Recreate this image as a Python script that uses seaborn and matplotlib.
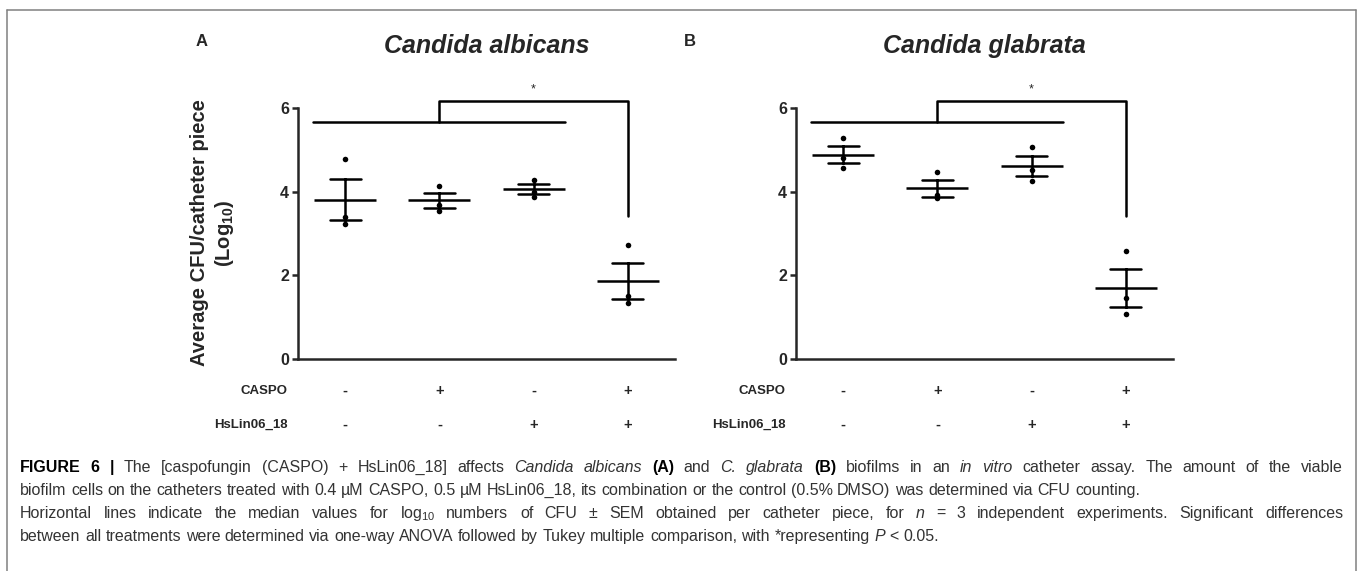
import numpy as np
import pandas as pd
import matplotlib.pyplot as plt
import seaborn as sns
from matplotlib.lines import Line2D

# treatment groups (x positions are categories 0..3)
groups = [0, 1, 2, 3]
caspo = ['-', '+', '-', '+']
hslin = ['-', '-', '+', '+']

# log10 CFU per catheter piece, three experiments per group
albicans_g1 = [4.78, 3.40, 3.23]
albicans_g2 = [4.14, 3.69, 3.54]
albicans_g3 = [4.28, 4.00, 3.88]
albicans_g4 = [2.73, 1.51, 1.35]

glabrata_g1 = [5.28, 4.81, 4.57]
glabrata_g2 = [4.46, 3.92, 3.85]
glabrata_g3 = [5.07, 4.51, 4.26]
glabrata_g4 = [2.58, 1.45, 1.08]

yticks = [0, 2, 4, 6]

# significance bracket levels (data units)
bar_low = 5.67
bar_high = 6.16
bar_drop = 3.42


def make_df(vals):
    rows = []
    for g, v in zip(groups, vals):
        for x in v:
            rows.append({'group': g, 'value': x})
    return pd.DataFrame(rows)


df_a = make_df([albicans_g1, albicans_g2, albicans_g3, albicans_g4])
df_b = make_df([glabrata_g1, glabrata_g2, glabrata_g3, glabrata_g4])

sns.set_style('ticks')
plt.rcParams['font.family'] = ['Liberation Sans', 'DejaVu Sans']
plt.rcParams['mathtext.fontset'] = 'custom'
plt.rcParams['mathtext.rm'] = 'Liberation Sans'
plt.rcParams['mathtext.it'] = 'Liberation Sans:italic'
plt.rcParams['mathtext.bf'] = 'Liberation Sans:bold'

W, H = 1362, 571
fig = plt.figure(figsize=(W / 100, H / 100), dpi=100)

lw = 1.8


def panel(left, df, title):
    ax = fig.add_axes([left / W, 212 / H, 377 / W, 251 / H])
    sns.pointplot(data=df, x='group', y='value', errorbar='se', capsize=0.33,
                  color='black', linestyle='none', marker='_', markersize=45,
                  markeredgewidth=lw, err_kws={'linewidth': lw}, ax=ax)
    sns.stripplot(data=df, x='group', y='value', jitter=False, color='black',
                  size=4, ax=ax, zorder=5)
    ax.set_xlim(-0.5, 3.5)
    ax.set_ylim(0, 6)
    ax.set_yticks(yticks)
    ax.set_yticklabels([str(t) for t in yticks], fontweight='bold', fontsize=11.5)
    ax.set_xticks([])
    ax.set_xlabel('')
    ax.set_ylabel('')
    for s in ['top', 'right']:
        ax.spines[s].set_visible(False)
    for s in ['left', 'bottom']:
        ax.spines[s].set_linewidth(lw)
    ax.tick_params(axis='y', width=lw, length=4.5, pad=2)

    # significance bracket
    ax.plot([-0.34, 2.33], [bar_low, bar_low], color='black', lw=lw, clip_on=False)
    ax.plot([1, 1, 3, 3], [bar_low, bar_high, bar_high, bar_drop],
            color='black', lw=lw, clip_on=False)
    ax.text(2, 6.44, '*', ha='center', va='center', fontsize=9)

    ax.text(0.5, 1.247, title, transform=ax.transAxes, ha='center', va='center',
            fontsize=18, fontweight='bold', fontstyle='italic')

    # treatment table under the axis
    trans = ax.get_xaxis_transform()
    ax.text(-0.027, -0.127, 'CASPO', transform=ax.transAxes, ha='right',
            va='center', fontsize=9.5, fontweight='bold')
    ax.text(-0.027, -0.263, 'HsLin06_18', transform=ax.transAxes, ha='right',
            va='center', fontsize=9.5, fontweight='bold')
    for g, c, h in zip(groups, caspo, hslin):
        ax.text(g, -0.127, c, transform=trans, ha='center', va='center',
                fontsize=10.5, fontweight='bold')
        ax.text(g, -0.263, h, transform=trans, ha='center', va='center',
                fontsize=10.5, fontweight='bold')
    return ax


ax_a = panel(298, df_a, 'Candida albicans')
ax_b = panel(796, df_b, 'Candida glabrata')

fig.text(213 / W, 1 - 233 / H, 'Average CFU/catheter piece\n(Log$_\\mathbf{10}$)',
         rotation=90, ha='center', va='center', multialignment='center',
         fontsize=14.5, fontweight='bold')

fig.text(202 / W, 1 - 42 / H, 'A', ha='center', va='center', fontsize=12, fontweight='bold')
fig.text(690 / W, 1 - 42 / H, 'B', ha='center', va='center', fontsize=12, fontweight='bold')

# caption, as (text, style) pieces per line; b = bold, i = italic, r = regular
cap_line1 = [('FIGURE 6 |', 'b'), ('The [caspofungin (CASPO) + HsLin06_18] affects', 'r'),
             ('Candida albicans', 'i'), ('(A)', 'b'), ('and', 'r'), ('C. glabrata', 'i'),
             ('(B)', 'b'), ('biofilms in an', 'r'), ('in vitro', 'i'),
             ('catheter assay. The amount of the viable', 'r')]
cap_line2 = [('biofilm cells on the catheters treated with 0.4 \u00b5M CASPO, 0.5 \u00b5M HsLin06_18, '
              'its combination or the control (0.5% DMSO) was determined via CFU counting.', 'r')]
cap_line3 = [('Horizontal lines indicate the median values for log$_{10}$ numbers of CFU \u00b1 SEM '
              'obtained per catheter piece, for', 'r'), ('n', 'i'),
             ('= 3 independent experiments. Significant differences', 'r')]
cap_line4 = [('between all treatments were determined via one-way ANOVA followed by Tukey '
              'multiple comparison, with *representing', 'r'), ('P', 'i'), ('< 0.05.', 'r')]

cap_font = ['Liberation Sans', 'DejaVu Sans']
cap_fs = 11.5
cap_left, cap_right = 20, 1343

renderer = fig.canvas.get_renderer()


def word_text(w, st):
    color = 'black' if st == 'b' else '#333333'
    return fig.text(0, 0, w, ha='left', va='baseline', fontsize=cap_fs, family=cap_font,
                    color=color, fontweight='bold' if st == 'b' else 'normal',
                    fontstyle='italic' if st == 'i' else 'normal')


probe = word_text('a a', 'r')
probe2 = word_text('aa', 'r')
space_w = probe.get_window_extent(renderer).width - probe2.get_window_extent(renderer).width
probe.remove()
probe2.remove()


def draw_line(y_px, segs, justify):
    words = [(w, st) for text, st in segs for w in text.split(' ')]
    arts = [word_text(w, st) for w, st in words]
    widths = [t.get_window_extent(renderer).width for t in arts]
    gap = space_w
    if justify and len(arts) > 1:
        gap = max(space_w, (cap_right - cap_left - sum(widths)) / (len(arts) - 1))
    x = cap_left
    for t, w in zip(arts, widths):
        t.set_position((x / W, 1 - y_px / H))
        x += w + gap


# baselines of the four caption lines (px from top)
draw_line(472, cap_line1, True)
draw_line(495, cap_line2, False)
draw_line(518, cap_line3, True)
draw_line(541, cap_line4, False)

# grey frame
frame = '#808080'
fig.add_artist(Line2D([7 / W, 1356 / W], [1 - 10 / H, 1 - 10 / H], color=frame, lw=1.1))
fig.add_artist(Line2D([7 / W, 7 / W], [1 - 10 / H, 0], color=frame, lw=1.1))
fig.add_artist(Line2D([1356 / W, 1356 / W], [1 - 10 / H, 0], color=frame, lw=1.1))

fig.savefig('out.png', dpi=100)
